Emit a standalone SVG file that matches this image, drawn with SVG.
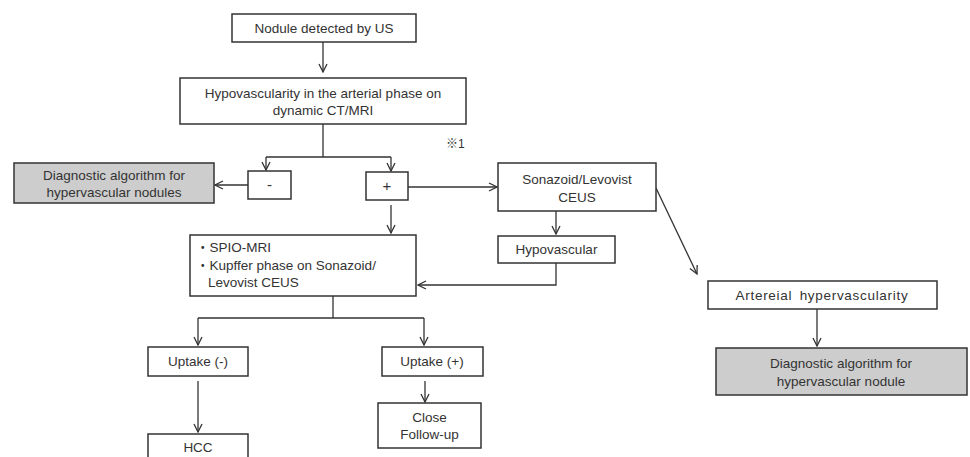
<svg xmlns="http://www.w3.org/2000/svg" width="970" height="457" viewBox="0 0 970 457">
<defs>
<marker id="ah" viewBox="0 0 10 10" refX="9" refY="5" markerWidth="10" markerHeight="10" markerUnits="userSpaceOnUse" orient="auto">
<path d="M1,1 L9,5 L1,9" fill="none" stroke="#333" stroke-width="1.3"/>
</marker>
<style>
.box{fill:#fff;stroke:#333;stroke-width:1.5}
.gbox{fill:#cdcdcd;stroke:#333;stroke-width:1.5}
.t{font-family:"Liberation Sans","Noto Sans CJK JP",sans-serif;font-size:13.5px;fill:#333;text-anchor:middle}
.tl{text-anchor:start}
.c{fill:none;stroke:#333;stroke-width:1.3}
.ca{fill:none;stroke:#333;stroke-width:1.3;marker-end:url(#ah)}
</style>
</defs>
<rect width="970" height="457" fill="#fff"/>
<g id="connectors">
<path class="ca" d="M323,42 V72"/>
<path class="c" d="M323,124 V157 M266,157 H391"/>
<path class="ca" d="M266,157 V170"/>
<path class="ca" d="M391,157 V171"/>
<path class="ca" d="M248,185 H215"/>
<path class="ca" d="M408,187 H497"/>
<path class="ca" d="M391,205 V233"/>
<path class="ca" d="M556,211 V234"/>
<path class="ca" d="M556,263 V285 H418"/>
<path class="ca" d="M656,188 L697,274"/>
<path class="ca" d="M817,309 V346"/>
<path class="c" d="M333,296 V318 M198,318 H424"/>
<path class="ca" d="M198,318 V345"/>
<path class="ca" d="M424,318 V345"/>
<path class="ca" d="M198,381 V432"/>
<path class="ca" d="M425,381 V402"/>
</g>
<g id="n_nodule"><rect class="box" x="232" y="14" width="184" height="28"/><text class="t" x="324" y="33">Nodule detected by US</text></g>
<g id="n_hypo_art"><rect class="box" x="180" y="78" width="286" height="46"/><text class="t" x="323" y="98">Hypovascularity in the arterial phase on</text><text class="t" x="323" y="115">dynamic CT/MRI</text></g>
<g id="n_note"><text class="t tl" x="446" y="148" style="font-size:12px">※1</text></g>
<g id="n_minus"><rect class="box" x="248" y="171" width="43" height="28"/><text class="t" x="269.5" y="190" style="font-size:15px">-</text></g>
<g id="n_plus"><rect class="box" x="366" y="172" width="42" height="28"/><text class="t" x="387" y="191" style="font-size:15px">+</text></g>
<g id="n_diag1"><rect class="gbox" x="14" y="163" width="200" height="40"/><text class="t" x="114" y="180">Diagnostic algorithm for</text><text class="t" x="114" y="197">hypervascular nodules</text></g>
<g id="n_ceus"><rect class="box" x="498" y="163" width="158" height="48"/><text class="t" x="577" y="184">Sonazoid/Levovist</text><text class="t" x="577" y="202">CEUS</text></g>
<g id="n_hypovasc"><rect class="box" x="498" y="236" width="117" height="27"/><text class="t" x="556.5" y="254">Hypovascular</text></g>
<g id="n_spio"><rect class="box" x="190" y="235" width="226" height="61"/><text class="t tl" x="196" y="252">・SPIO-MRI</text><text class="t tl" x="196" y="270">・Kupffer phase on Sonazoid/</text><text class="t tl" x="208" y="287">Levovist CEUS</text></g>
<g id="n_arterial"><rect class="box" x="708" y="281" width="229" height="28"/><text class="t" x="822" y="300" style="letter-spacing:0.7px;word-spacing:3px">Artereial hypervascularity</text></g>
<g id="n_diag2"><rect class="gbox" x="716" y="348" width="251" height="47"/><text class="t" x="841" y="368">Diagnostic algorithm for</text><text class="t" x="841" y="386">hypervascular nodule</text></g>
<g id="n_upneg"><rect class="box" x="148" y="347" width="100" height="29"/><text class="t" x="198" y="366">Uptake (-)</text></g>
<g id="n_uppos"><rect class="box" x="382" y="347" width="101" height="29"/><text class="t" x="432" y="366">Uptake (+)</text></g>
<g id="n_hcc"><rect class="box" x="148" y="434" width="100" height="30"/><text class="t" x="198" y="452">HCC</text></g>
<g id="n_follow"><rect class="box" x="378" y="403" width="103" height="45"/><text class="t" x="429.5" y="422">Close</text><text class="t" x="429.5" y="439">Follow-up</text></g>
</svg>
